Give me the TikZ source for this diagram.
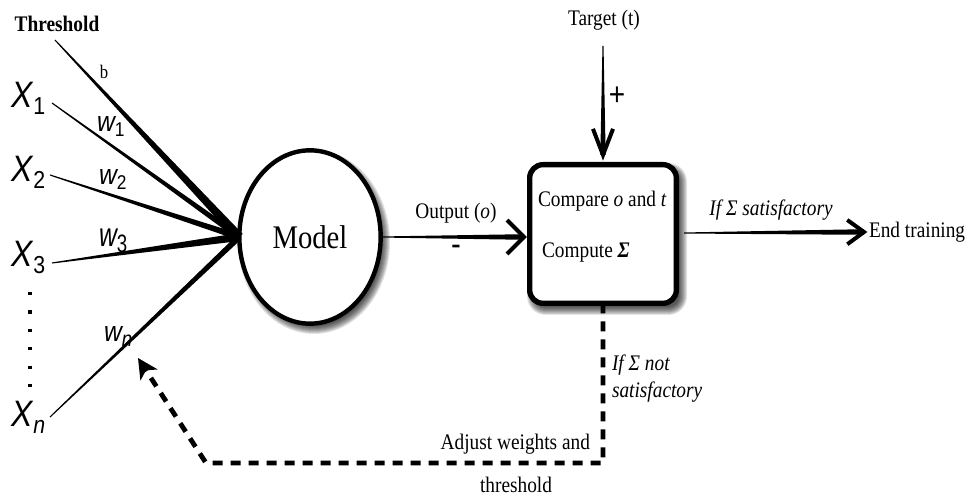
\documentclass[tikz,border=0pt]{standalone}
\usepackage{fontspec}
\setmainfont{Liberation Serif}
\setsansfont{Liberation Sans}
\usetikzlibrary{arrows.meta,calc,shapes.geometric}

% text set slightly taller than wide
\newcommand\tl[2][1.15]{\scalebox{1}[#1]{#2}}
% filled wedge: start, end, start half width, end half width
\newcommand\taperline[4]{%
  \fill ($(#1)!#3!90:(#2)$) -- ($(#2)!#4!-90:(#1)$) -- ($(#2)!#4!90:(#1)$) -- ($(#1)!#3!-90:(#2)$) -- cycle;}
% open chevron head: tip, point behind it, arm length, half angle
\newcommand\chevron[4]{%
  \draw[line width=3pt, miter limit=20] ($(#1)!#3!#4:(#2)$) -- (#1) -- ($(#1)!#3!-#4:(#2)$);}

\begin{document}
\begin{tikzpicture}[x=0.75pt, y=-0.75pt,
  font=\fontsize{14.5}{17}\selectfont,
  every node/.style={inner sep=0pt, outer sep=0pt},
  xlbl/.style={anchor=base west, font=\sffamily\itshape\fontsize{24}{24}\selectfont},
  wlbl/.style={anchor=base west, font=\sffamily\itshape\fontsize{18.5}{18.5}\selectfont},
  softshade/.style={fill=black, fill opacity=0.11},
  modelnode/.style={ellipse, draw, line width=3.3pt, fill=white,
    minimum width=106pt, minimum height=130pt},
  boxnode/.style={rectangle, rounded corners=10pt, draw, line width=4pt, fill=white,
    minimum width=110pt, minimum height=104pt},
  feedback/.style={line width=3.6pt, dash pattern=on 7.5pt off 6pt,
    -{Stealth[length=15pt, width=15pt, inset=4pt]}},
  dotcol/.style={line width=2.4pt, dash pattern=on 2.4pt off 11.4pt}]

\useasboundingbox (0,0) rectangle (971,498);

% ---------- inputs ----------
\node[font=\bfseries\fontsize{14.5}{17}\selectfont] (thr) at (57,24) {\tl{Threshold}};
\node[xlbl] (x1) at (12,108) {\tl{X\raisebox{-4pt}{\fontsize{16}{16}\selectfont\upshape 1}}};
\node[xlbl] (x2) at (12,182) {\tl{X\raisebox{-4pt}{\fontsize{16}{16}\selectfont\upshape 2}}};
\node[xlbl] (x3) at (12,267) {\tl{X\raisebox{-4pt}{\fontsize{16}{16}\selectfont\upshape 3}}};
\node[xlbl] (xn) at (12,427) {\tl{X\raisebox{-4pt}{\fontsize{16}{16}\selectfont n}}};

\coordinate (s0) at (55,40);
\coordinate (s1) at (52,103);
\coordinate (s2) at (50,175);
\coordinate (s3) at (52,263);
\coordinate (sn) at (50,417);

% ---------- model with soft shadow ----------
\coordinate (mc) at (310,237);
\foreach \r in {0,...,8}
  \fill[softshade] ($(mc)+(4,5)$) ellipse [x radius={68+\r}, y radius={84+\r}];
\node[modelnode] (model) at (mc) {\tl{\fontsize{21.5}{24}\selectfont Model}};

\taperline{s0}{model.west}{0.4pt}{3.4pt}
\taperline{s1}{model.west}{0.4pt}{2.2pt}
\taperline{s2}{model.west}{0.4pt}{2.4pt}
\taperline{s3}{model.west}{0.4pt}{3pt}
\taperline{sn}{model.west}{0.4pt}{2.2pt}

\node[font=\fontsize{12.5}{14}\selectfont] (blbl) at (104,72) {\tl{b}};
\node[wlbl] (w1) at (97,132) {\tl{w\raisebox{-3pt}{\fontsize{13}{13}\selectfont\upshape 1}}};
\node[wlbl] (w2) at (99,185) {\tl{w\raisebox{-3pt}{\fontsize{13}{13}\selectfont\upshape 2}}};
\node[wlbl] (w3) at (99,247) {\tl[1.35]{w\raisebox{-3pt}{\fontsize{14}{14}\selectfont\upshape 3}}};
\node[wlbl] (wn) at (104,342) {\tl{w\raisebox{-3pt}{\fontsize{14}{14}\selectfont n}}};

\coordinate (d1) at (30,292);
\coordinate (d2) at (30,390);
\draw[dotcol] (d1) -- (d2);

% ---------- comparison box with soft shadow ----------
\coordinate (bc) at (603,234);
\foreach \r in {0,...,8}
  \fill[softshade, rounded corners={8pt+\r*0.75pt}]
    ($(bc)+({-72-\r+4},{-68-\r+5})$) rectangle ($(bc)+({72+\r+4},{68+\r+5})$);
\node[boxnode] (box) at (bc) {};
\node[anchor=west] (cmp) at (538,201) {\tl{Compare \textit{o} and \textit{t}}};
\node[anchor=west] (cpt) at (542,253) {\tl{Compute {\bfseries\itshape Σ}}};

% output arrow
\coordinate (otip) at (524,237);
\taperline{model.east}{otip}{0.4pt}{2.1pt}
\chevron{otip}{model.east}{18pt}{45}
\node (outlbl) at (456,213) {\tl{Output (\textit{o})}};
\node (minus) at (456,250) {\tl{\fontsize{22}{22}\selectfont\sffamily -}};

% target arrow
\node (tgt) at (604,20) {\tl{Target (t)}};
\coordinate (tstart) at (603,46);
\coordinate (ttip) at (603,155);
\taperline{tstart}{ttip}{0.4pt}{2pt}
\chevron{ttip}{tstart}{21pt}{21}
\node (plus) at (617,96) {\tl{\fontsize{21}{21}\selectfont\sffamily +}};

% end of training
\coordinate (rstart) at (684,233);
\coordinate (rtip) at (864,232);
\taperline{rstart}{rtip}{0.4pt}{2.1pt}
\chevron{rtip}{rstart}{15.5pt}{36}
\node[anchor=west] (end) at (869,232) {\tl{End training}};
\node (sat) at (771,210) {\tl{\itshape If Σ satisfactory}};

% feedback path
\coordinate (fb1) at (603,463);
\coordinate (fb2) at (206,463);
\coordinate (fbtip) at (138,358);
\draw[feedback] (box.south) -- (fb1) -- (fb2) -- (fbtip);
\node[anchor=west] (nsat1) at (612,365) {\tl{\itshape If Σ not}};
\node[anchor=west] (nsat2) at (612,392) {\tl{\itshape satisfactory}};
\node[anchor=east] (adj) at (590,444) {\tl{Adjust weights and}};
\node (thr2) at (516,485) {\tl{threshold}};

\end{tikzpicture}
\end{document}
